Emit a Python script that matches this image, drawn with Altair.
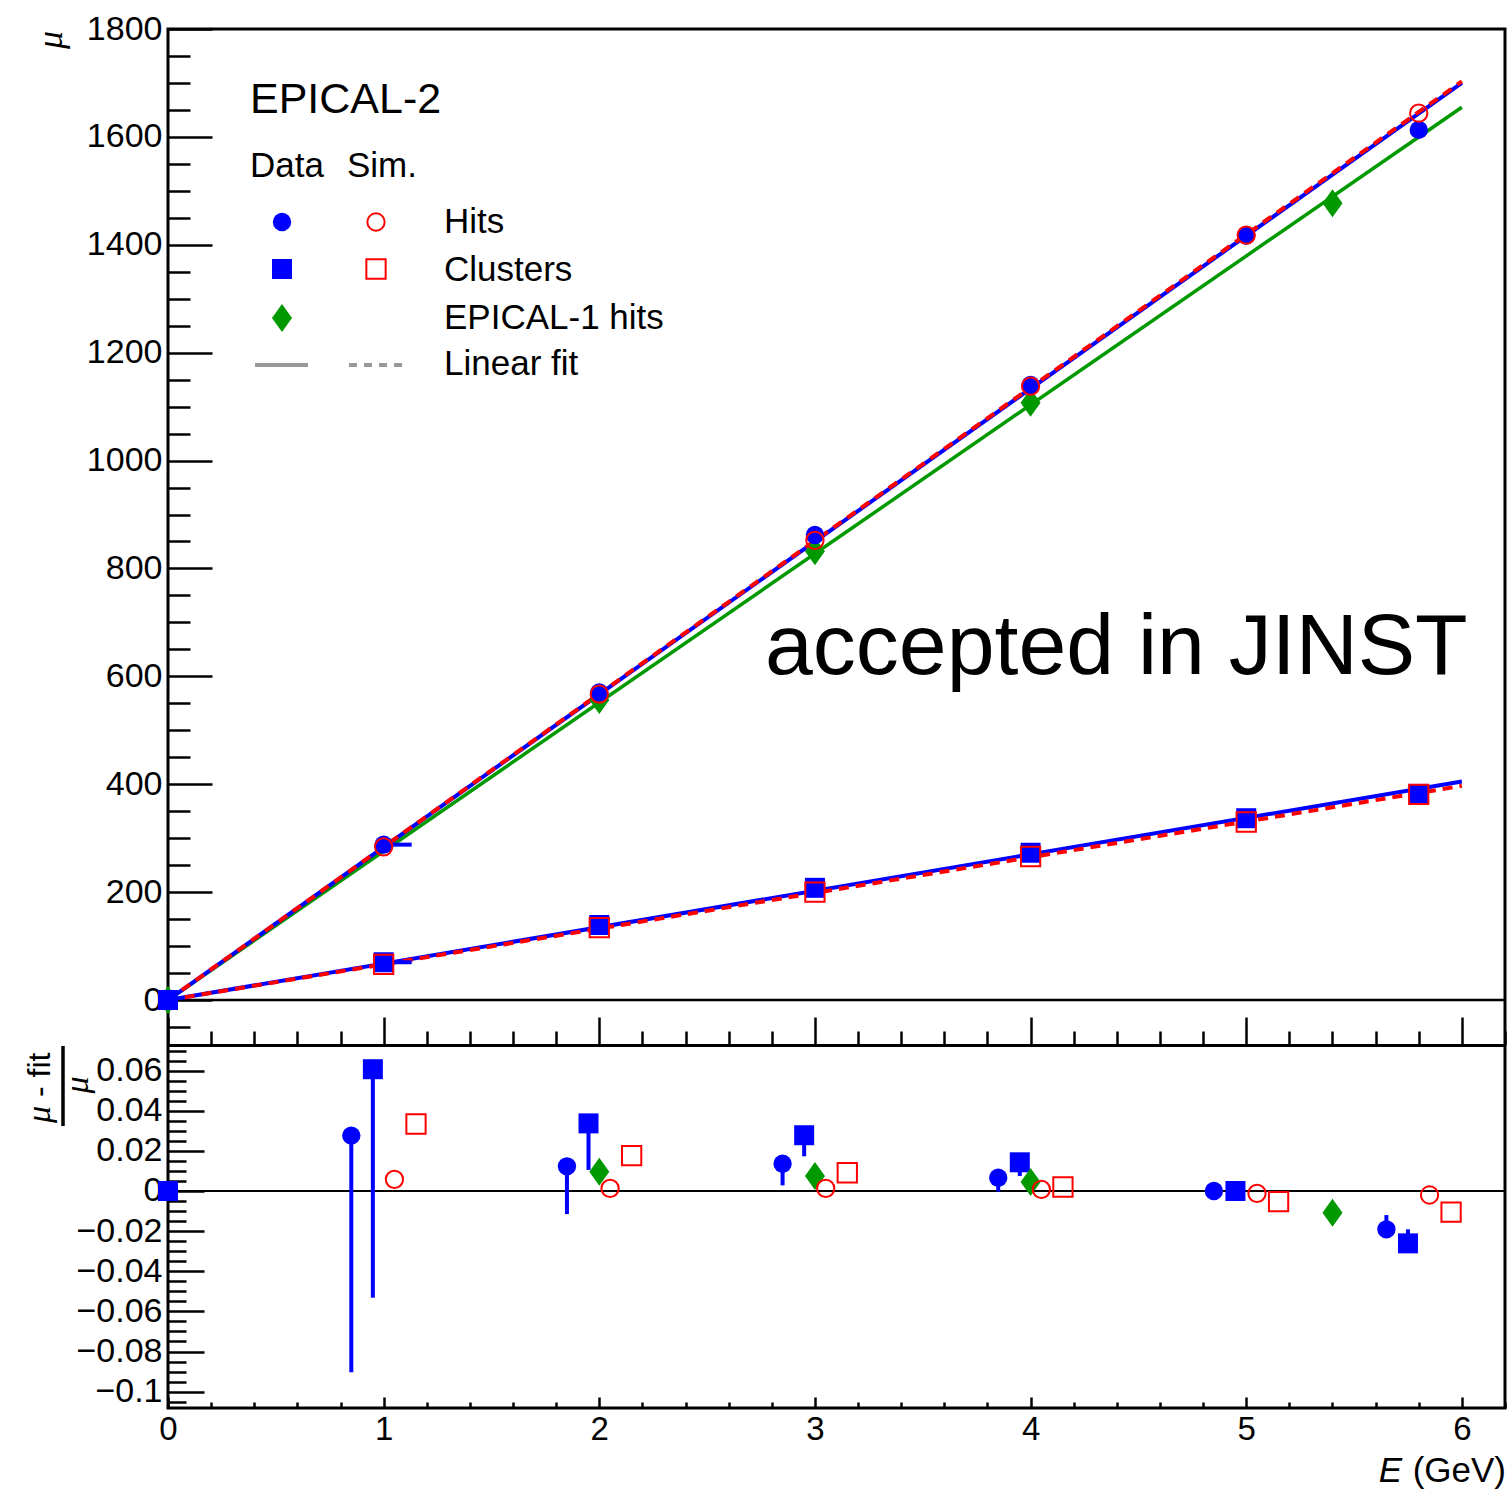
import altair as alt
import pandas as pd

# ---------------- top panel: mu vs E (GeV) ----------------
E_top = [0, 1, 2, 3, 4, 5, 5.8]
data_hits = [0, 288, 570, 862, 1140, 1417, 1613]
data_clusters = [0, 70, 139, 208, 273, 337, 382]
E_sim = [1, 2, 3, 4, 5, 5.8]
sim_hits = [284, 567, 852, 1138, 1418, 1644]
sim_clusters = [66, 134, 200, 266, 330, 381]
E_epical1 = [0, 2, 3, 4, 5.4]
epical1_hits = [0, 556, 832, 1107, 1477]

# horizontal error bars visible at 1 GeV (data)
xerr_E = [1, 1]
xerr_E2 = [1.13, 1.13]
xerr_mu = [288, 70]

# linear fits (end points)
fit_E = [0, 6]
fit_data_hits = [0, 1700]
fit_sim_hits = [0, 1703]
fit_epical1 = [0, 1655]
fit_data_clusters = [0, 405]
fit_sim_clusters = [0, 397]

# ---------------- bottom panel: (mu - fit)/mu ----------------
rE_data_hits = [0.85, 1.85, 2.85, 3.85, 4.85, 5.65]
r_data_hits = [0.0276, 0.0123, 0.0136, 0.0066, 0.0, -0.0191]
r_data_hits_bar = [-0.0904, -0.0115, 0.0028, -0.0003, 0.0, -0.0120]
rE_data_clusters = [0, 0.95, 1.95, 2.95, 3.95, 4.95, 5.75]
r_data_clusters = [0, 0.0607, 0.0337, 0.0278, 0.0143, 0.0, -0.0261]
r_data_clusters_bar = [0, -0.0532, 0.0105, 0.0173, 0.0075, 0.0, -0.0191]
rE_epical1 = [2.0, 3.0, 4.0, 5.4]
r_epical1 = [0.0096, 0.0075, 0.0045, -0.0108]
rE_sim_hits = [1.05, 2.05, 3.05, 4.05, 5.05, 5.85]
r_sim_hits = [0.0058, 0.0013, 0.0013, 0.0008, -0.0012, -0.0020]
rE_sim_clusters = [1.15, 2.15, 3.15, 4.15, 5.15, 5.95]
r_sim_clusters = [0.0334, 0.0176, 0.0091, 0.0020, -0.0053, -0.0105]

# ---------------- ticks ----------------
x_major = [0, 1, 2, 3, 4, 5, 6]
x_minor = [round(0.2 * i, 1) for i in range(1, 32) if i % 5 != 0]
top_y_major = [0, 200, 400, 600, 800, 1000, 1200, 1400, 1600, 1800]
top_y_minor = [50 * i for i in range(-1, 36) if i % 4 != 0]
bot_y_major = [-0.1, -0.08, -0.06, -0.04, -0.02, 0, 0.02, 0.04, 0.06]
bot_y_minor = [round(0.005 * i, 3) for i in range(-21, 15) if i % 4 != 0]

FONT = "Liberation Sans"
W, H = 1337, 1379
TOP_H = 1016
BLUE, RED, GREEN = "#0000ff", "#ff0000", "#009900"
DIAMOND = "M0,-1.4L1,0L0,1.4L-1,0Z"

XS = alt.Scale(domain=[0, 6.2], nice=False, zero=False)
YS_TOP = alt.Scale(domain=[-83.4, 1800], range=[TOP_H, 0], nice=False, zero=False)
YS_BOT = alt.Scale(domain=[-0.10816, 0.07277], range=[H, TOP_H], nice=False, zero=False)


def tick_axis(orient, offset, size, values, domain=False):
    return alt.Axis(orient=orient, offset=offset, tickSize=size, values=values, labels=False,
                    ticks=True, domain=domain, grid=False, title=None, tickColor="black",
                    tickWidth=2.5, domainColor="black", domainWidth=3)


def label_axis(orient, values, fmt, size, pad=6):
    return alt.Axis(orient=orient, values=values, format=fmt, labels=True, ticks=False, tickSize=0,
                    domain=False, grid=False, title=None, labelFont=FONT, labelFontSize=size,
                    labelColor="black", labelPadding=pad, labelOverlap=False, labelFlush=False)


AX_TOP_X = tick_axis("top", -TOP_H, 28, x_major, domain=True)
AX_TOP_X_MINOR = tick_axis("top", -TOP_H, 14, x_minor)
AX_TOP_Y = label_axis("left", top_y_major, "d", 34)
AX_TOP_Y_MAJOR = tick_axis("right", -W, 44, top_y_major)
AX_TOP_Y_MINOR = tick_axis("right", -W, 22, top_y_minor)

AX_BOT_X = label_axis("bottom", x_major, "d", 33, pad=5)
AX_BOT_X_MAJOR = tick_axis("top", -H, 11, x_major)
AX_BOT_X_MINOR = tick_axis("top", -H, 6, x_minor)
AX_BOT_Y = label_axis("left", bot_y_major, ".2~f", 34)
AX_BOT_Y_MAJOR = tick_axis("right", -W, 36, bot_y_major)
AX_BOT_Y_MINOR = tick_axis("right", -W, 18, bot_y_minor)


def df(xs, ys, ys2=None, xs2=None):
    d = {"E": xs, "v": ys}
    if ys2 is not None:
        d["v2"] = ys2
    if xs2 is not None:
        d["E2"] = xs2
    return pd.DataFrame(d)


def enc_top(ch, xaxis=AX_TOP_X, yaxis=AX_TOP_Y, **kw):
    return ch.encode(x=alt.X("E", type="quantitative", scale=XS, axis=xaxis),
                     y=alt.Y("v", type="quantitative", scale=YS_TOP, axis=yaxis), **kw)


def enc_bot(ch, xaxis=AX_BOT_X, yaxis=AX_BOT_Y, **kw):
    return ch.encode(x=alt.X("E", type="quantitative", scale=XS, axis=xaxis),
                     y=alt.Y("v", type="quantitative", scale=YS_BOT, axis=yaxis), **kw)


def filled(shape, color, size):
    return dict(shape=shape, filled=True, color=color, size=size, opacity=1, strokeWidth=0)


def hollow(shape, color, size):
    return dict(shape=shape, filled=False, color=color, size=size, opacity=1, strokeWidth=2)


# ---------------- top layer ----------------
top_layers = [
    alt.Chart(pd.DataFrame({"k": [0]})).mark_rule(color="black", strokeWidth=2.5).encode(
        y=alt.YDatum(0, scale=YS_TOP, axis=AX_TOP_Y)),
    enc_top(alt.Chart(df(fit_E, fit_epical1)).mark_line(color=GREEN, strokeWidth=3.5)),
    enc_top(alt.Chart(df(fit_E, fit_data_hits)).mark_line(color=BLUE, strokeWidth=4)),
    enc_top(alt.Chart(df(fit_E, fit_data_clusters)).mark_line(color=BLUE, strokeWidth=4)),
    enc_top(alt.Chart(df(fit_E, fit_sim_hits)).mark_line(color=RED, strokeWidth=4, strokeDash=[10, 7])),
    enc_top(alt.Chart(df(fit_E, fit_sim_clusters)).mark_line(color=RED, strokeWidth=4, strokeDash=[10, 7])),
    enc_top(alt.Chart(df(E_epical1, epical1_hits)).mark_point(**filled(DIAMOND, GREEN, 400))),
    enc_top(alt.Chart(df(xerr_E, xerr_mu, xs2=xerr_E2)).mark_rule(color=BLUE, strokeWidth=4),
            x2=alt.X2("E2")),
    enc_top(alt.Chart(df(E_top, data_hits)).mark_point(**filled("circle", BLUE, 337))),
    enc_top(alt.Chart(df(E_top, data_clusters)).mark_point(**filled("square", BLUE, 400))),
    enc_top(alt.Chart(df(E_sim, sim_hits)).mark_point(**hollow("circle", RED, 300))),
    enc_top(alt.Chart(df(E_sim, sim_clusters)).mark_point(**hollow("square", RED, 372))),
]
top = alt.layer(*top_layers)

dummy = pd.DataFrame({"E": [0], "v": [0]})
top_ticks1 = enc_top(alt.Chart(dummy).mark_point(opacity=0), xaxis=AX_TOP_X_MINOR, yaxis=AX_TOP_Y_MAJOR)
top_ticks2 = enc_top(alt.Chart(dummy).mark_point(opacity=0), xaxis=None, yaxis=AX_TOP_Y_MINOR)

# ---------------- bottom layer ----------------
bot_layers = [
    alt.Chart(pd.DataFrame({"k": [0]})).mark_rule(color="black", strokeWidth=2).encode(
        y=alt.YDatum(0, scale=YS_BOT, axis=AX_BOT_Y)),
    enc_bot(alt.Chart(df(rE_data_hits, r_data_hits, ys2=r_data_hits_bar)).mark_rule(color=BLUE, strokeWidth=4),
            y2=alt.Y2("v2")),
    enc_bot(alt.Chart(df(rE_data_clusters, r_data_clusters, ys2=r_data_clusters_bar)).mark_rule(color=BLUE, strokeWidth=4),
            y2=alt.Y2("v2")),
    enc_bot(alt.Chart(df(rE_data_hits, r_data_hits)).mark_point(**filled("circle", BLUE, 337))),
    enc_bot(alt.Chart(df(rE_data_clusters, r_data_clusters)).mark_point(**filled("square", BLUE, 400))),
    enc_bot(alt.Chart(df(rE_epical1, r_epical1)).mark_point(**filled(DIAMOND, GREEN, 400))),
    enc_bot(alt.Chart(df(rE_sim_hits, r_sim_hits)).mark_point(**hollow("circle", RED, 300))),
    enc_bot(alt.Chart(df(rE_sim_clusters, r_sim_clusters)).mark_point(**hollow("square", RED, 372))),
]
bottom = alt.layer(*bot_layers)
bot_ticks1 = enc_bot(alt.Chart(dummy).mark_point(opacity=0), xaxis=AX_BOT_X_MAJOR, yaxis=AX_BOT_Y_MAJOR)
bot_ticks2 = enc_bot(alt.Chart(dummy).mark_point(opacity=0), xaxis=AX_BOT_X_MINOR, yaxis=AX_BOT_Y_MINOR)


# ---------------- annotations / legend ----------------
def deco():
    return alt.Chart(pd.DataFrame({"k": [0]}))


def txt(s, x, y, size, align="left", font=FONT, style="normal", angle=0):
    return deco().mark_text(text=s, font=font, fontSize=size, align=align, baseline="alphabetic",
                            color="black", fontStyle=style, angle=angle).encode(
        x=alt.value(x), y=alt.value(y))


def sym(x, y, **kw):
    return deco().mark_point(**kw).encode(x=alt.value(x), y=alt.value(y))


annot = [
    txt("EPICAL-2", 82, 84, 43),
    txt("Data", 82, 148, 35),
    txt("Sim.", 179, 148, 35),
    txt("Hits", 276, 204, 35),
    txt("Clusters", 276, 252, 35),
    txt("EPICAL-1 hits", 276, 300, 35),
    txt("Linear fit", 276, 346, 35),
    sym(114, 193, **filled("circle", BLUE, 337)),
    sym(208, 193, **hollow("circle", RED, 300)),
    sym(114, 240, **filled("square", BLUE, 400)),
    sym(208, 240, **hollow("square", RED, 372)),
    sym(114, 289, **filled(DIAMOND, GREEN, 400)),
    deco().mark_rule(color="#999999", strokeWidth=4).encode(x=alt.value(87), x2=alt.value(140), y=alt.value(336)),
    deco().mark_rule(color="#999999", strokeWidth=4, strokeDash=[8, 7]).encode(
        x=alt.value(181), x2=alt.value(235), y=alt.value(336)),
    txt("accepted in JINST", 597, 645, 86),
    txt("(GeV)", 1338, 1453, 35, align="right"),
    txt("E", 1234, 1453, 35, align="right", style="italic"),
    txt("μ", -106, 11, 36, align="center", font="Liberation Serif", style="italic", angle=270),
    txt("μ", -118, 1094, 34, align="left", font="Liberation Serif", style="italic", angle=270),
    txt("- fit", -118, 1068, 32, align="left", angle=270),
    deco().mark_rule(color="black", strokeWidth=3.5).encode(
        x=alt.value(-105), y=alt.value(1017), y2=alt.value(1097)),
    txt("μ", -80, 1056, 34, align="center", font="Liberation Serif", style="italic", angle=270),
]

chart = alt.layer(top, top_ticks1, top_ticks2, bottom, bot_ticks1, bot_ticks2, *annot).resolve_scale(
    x="independent", y="independent"
).properties(
    width=W, height=H,
    autosize=alt.AutoSizeParams(type="none"),
    padding={"left": 168, "top": 29, "right": 2, "bottom": 81},
    background="white",
).configure_view(
    stroke="black", strokeWidth=3
).configure_axis(
    grid=False, tickColor="black", domainColor="black", labelColor="black"
)

chart.save("out.html", embed_options={"renderer": "svg", "actions": False})
